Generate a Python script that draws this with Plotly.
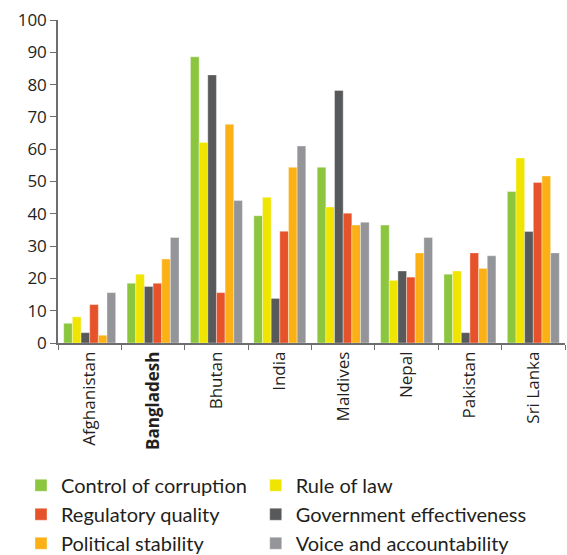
import plotly.graph_objects as go

countries = ["Afghanistan", "Bangladesh", "Bhutan", "India", "Maldives",
             "Nepal", "Pakistan", "Sri Lanka"]
tick_labels = ["Afghanistan", "<b>Bangladesh</b>", "Bhutan", "India", "Maldives",
               "Nepal", "Pakistan", "Sri Lanka"]

control_of_corruption = [6.1, 18.5, 88.6, 39.4, 54.4, 36.5, 21.3, 46.9]
rule_of_law = [8.1, 21.3, 62.1, 45.1, 42.1, 19.4, 22.3, 57.3]
government_effectiveness = [3.2, 17.5, 83.0, 13.8, 78.2, 22.3, 3.2, 34.5]
regulatory_quality = [11.9, 18.5, 15.6, 34.6, 40.2, 20.4, 27.9, 49.7]
political_stability = [2.4, 26.0, 67.7, 54.4, 36.5, 27.9, 23.1, 51.7]
voice_and_accountability = [15.6, 32.7, 44.1, 61.0, 37.4, 32.7, 27.0, 27.9]

# (name, values, colour, legend column, rank within column), in bar order
series = [
    ("Control of corruption", control_of_corruption, "#8cc63f", "legend", 1),
    ("Rule of law", rule_of_law, "#f0e500", "legend2", 1),
    ("Government effectiveness", government_effectiveness, "#58595b", "legend2", 2),
    ("Regulatory quality", regulatory_quality, "#e6532a", "legend", 2),
    ("Political stability", political_stability, "#fbb116", "legend", 3),
    ("Voice and accountability", voice_and_accountability, "#939598", "legend2", 3),
]

fig = go.Figure()
for name, vals, color, leg, rank in series:
    fig.add_trace(go.Bar(
        x=countries, y=vals, name=name, legend=leg, legendrank=rank,
        marker=dict(color=color, line=dict(color="rgba(255,255,255,0.6)", width=0.6)),
    ))

axis_color = "#6d6e71"
text_color = "#231f20"
legend_font = dict(family="Lato", size=20, color=text_color)

fig.update_layout(
    width=567, height=555,
    margin=dict(l=58, r=2, t=20, b=212, autoexpand=False),
    paper_bgcolor="white", plot_bgcolor="white",
    barmode="group", bargap=0.18, bargroupgap=0,
    font=dict(family="Open Sans", color=text_color),
    showlegend=True,
    legend=dict(
        orientation="v", x=-0.073, xanchor="left", y=-0.38, yanchor="top",
        font=legend_font, itemwidth=30, traceorder="normal",
    ),
    legend2=dict(
        orientation="v", x=0.39, xanchor="left", y=-0.38, yanchor="top",
        font=legend_font, itemwidth=30, traceorder="normal",
    ),
    xaxis=dict(
        tickmode="array", tickvals=countries, ticktext=tick_labels,
        tickangle=-90, tickfont=dict(size=17, color=text_color),
        showline=True, linecolor=axis_color, linewidth=1.5,
        ticks="outside", tickson="boundaries", ticklen=5, tickcolor=axis_color,
        showgrid=False,
    ),
    yaxis=dict(
        range=[0, 100], dtick=10, tickfont=dict(size=17, color=text_color),
        showline=True, linecolor=axis_color, linewidth=1.5,
        ticks="outside", ticklen=6, tickcolor=axis_color,
        showgrid=False, zeroline=False,
    ),
)

fig.write_html("out.html")
